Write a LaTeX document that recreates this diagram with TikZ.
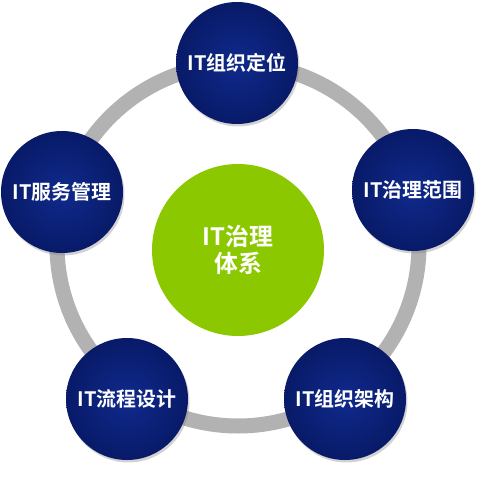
\documentclass[tikz,border=0pt]{standalone}
\usepackage{fontspec}
\newfontfamily\cjk{Noto Sans CJK SC}[BoldFont={Noto Sans CJK SC Bold}]
\usetikzlibrary{shadows}
\definecolor{navy}{RGB}{16,42,140}
\definecolor{navyedge}{RGB}{8,26,104}
\definecolor{lime}{RGB}{140,200,0}
\definecolor{ringgray}{RGB}{178,178,178}
\begin{document}
\begin{tikzpicture}[x=1bp,y=-1bp,
  topic/.style={circle, minimum size=122bp, inner sep=0pt, shading=radial,
    inner color=navy, outer color=navyedge, text=white,
    font=\cjk\bfseries\fontsize{20}{24}\selectfont,
    drop shadow={opacity=0.35, shadow xshift=1.5pt, shadow yshift=-2.5pt}},
  core/.style={circle, minimum size=172bp, inner sep=0pt, fill=lime, text=white,
    align=center, font=\cjk\bfseries\fontsize{24}{27}\selectfont}]
\fill[white] (0,0) rectangle (480,480);
\useasboundingbox (0,0) rectangle (480,480);
\coordinate (ringc) at (238,245);
\draw[ringgray, line width=15bp] (ringc) circle[radius=181];
\node[core] (sys) at (238,250) {IT治理\\体系};
\node[topic] (pos) at (237,63) {IT组织定位};
\node[topic] (svc) at (62,192) {IT服务管理};
\node[topic] (scope) at (413,190) {IT治理范围};
\node[topic] (proc) at (127,399) {IT流程设计};
\node[topic] (arch) at (345,399) {IT组织架构};
\end{tikzpicture}
\end{document}
